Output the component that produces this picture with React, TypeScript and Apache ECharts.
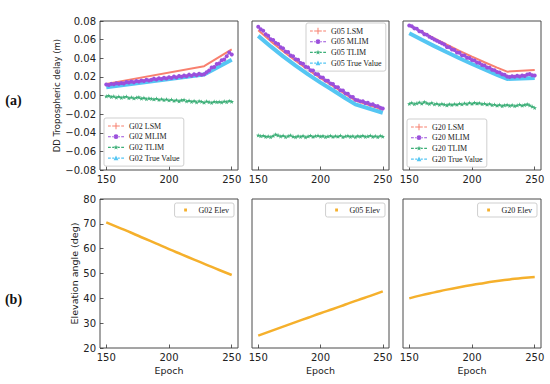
import React, { useEffect, useRef } from 'react';
import * as echarts from 'echarts';

// ---------------- data ----------------
const X_TICKS = [150, 200, 250];
const DELAY_TICK_INTERVAL = 0.02;
const ELEV_TICK_INTERVAL = 10;

const DENSE_EPOCHS = [150, 152, 154, 156, 158, 160, 162, 164, 166, 168, 170, 172, 174, 176, 178, 180, 182, 184, 186, 188, 190, 192, 194, 196, 198, 200, 202, 204, 206, 208, 210, 212, 214, 216, 218, 220, 222, 224, 226, 228, 230, 232, 234, 236, 238, 240, 242, 244, 246, 248, 250];

// G02
const G02_KEY_EPOCHS = [150, 228, 250];
const G02_LSM = [0.0125, 0.0315, 0.0495];
const G02_TRUE = [0.0088, 0.0225, 0.0385];
const G02_MLIM = [0.0118, 0.0112, 0.0125, 0.0121, 0.0131, 0.0126, 0.0135, 0.0130, 0.0144, 0.0139, 0.0150, 0.0143, 0.0156, 0.0149, 0.0162, 0.0155, 0.0170, 0.0161, 0.0168, 0.0181, 0.0172, 0.0185, 0.0178, 0.0190, 0.0183, 0.0197, 0.0189, 0.0203, 0.0194, 0.0209, 0.0201, 0.0215, 0.0207, 0.0224, 0.0213, 0.0229, 0.0218, 0.0233, 0.0222, 0.0228, 0.0249, 0.0268, 0.0301, 0.0307, 0.0338, 0.0345, 0.0379, 0.0386, 0.0421, 0.0462, 0.0441];
const G02_TLIM = [-0.0008, -0.0002, -0.0015, -0.0009, -0.0021, -0.0012, -0.0024, -0.0016, -0.0011, -0.0027, -0.0019, -0.0030, -0.0022, -0.0018, -0.0033, -0.0025, -0.0038, -0.0029, -0.0035, -0.0041, -0.0032, -0.0045, -0.0037, -0.0049, -0.0040, -0.0052, -0.0044, -0.0057, -0.0048, -0.0061, -0.0050, -0.0046, -0.0063, -0.0055, -0.0068, -0.0058, -0.0072, -0.0060, -0.0066, -0.0075, -0.0062, -0.0070, -0.0078, -0.0064, -0.0071, -0.0067, -0.0074, -0.0063, -0.0069, -0.0058, -0.0066];

// G05
const G05_KEY_EPOCHS = [150, 160, 170, 180, 190, 200, 210, 220, 228, 250];
const G05_LSM = [0.0700, 0.0584, 0.0475, 0.0373, 0.0277, 0.0187, 0.0103, 0.0015, -0.0053, -0.0150];
const G05_TRUE = [0.0640, 0.0527, 0.0420, 0.0320, 0.0226, 0.0138, 0.0056, -0.0030, -0.0095, -0.0185];
const G05_MLIM = [0.0738, 0.0712, 0.0695, 0.0658, 0.0641, 0.0603, 0.0597, 0.0565, 0.0553, 0.0518, 0.0506, 0.0471, 0.0466, 0.0430, 0.0421, 0.0389, 0.0384, 0.0350, 0.0341, 0.0308, 0.0302, 0.0270, 0.0268, 0.0232, 0.0228, 0.0196, 0.0192, 0.0161, 0.0158, 0.0128, 0.0124, 0.0092, 0.0089, 0.0057, 0.0054, 0.0023, 0.0019, -0.0012, -0.0015, -0.0046, -0.0050, -0.0063, -0.0061, -0.0080, -0.0079, -0.0098, -0.0095, -0.0113, -0.0114, -0.0131, -0.0139];
const G05_TLIM = [-0.0428, -0.0436, -0.0431, -0.0442, -0.0437, -0.0445, -0.0433, -0.0418, -0.0427, -0.0439, -0.0430, -0.0446, -0.0436, -0.0428, -0.0441, -0.0447, -0.0435, -0.0443, -0.0432, -0.0449, -0.0438, -0.0431, -0.0444, -0.0436, -0.0429, -0.0441, -0.0434, -0.0446, -0.0437, -0.0432, -0.0443, -0.0436, -0.0440, -0.0430, -0.0445, -0.0438, -0.0433, -0.0442, -0.0436, -0.0447, -0.0434, -0.0440, -0.0431, -0.0444, -0.0437, -0.0429, -0.0442, -0.0436, -0.0445, -0.0433, -0.0440];

// G20
const G20_KEY_EPOCHS = [150, 160, 170, 180, 190, 200, 210, 220, 228, 250];
const G20_LSM = [0.0755, 0.0684, 0.0614, 0.0546, 0.0480, 0.0417, 0.0357, 0.0300, 0.0256, 0.0275];
const G20_TRUE = [0.0668, 0.0598, 0.0530, 0.0464, 0.0400, 0.0338, 0.0279, 0.0222, 0.0178, 0.0188];
const G20_MLIM = [0.0752, 0.0744, 0.0721, 0.0716, 0.0689, 0.0685, 0.0658, 0.0652, 0.0631, 0.0618, 0.0602, 0.0589, 0.0574, 0.0560, 0.0548, 0.0521, 0.0519, 0.0493, 0.0489, 0.0462, 0.0458, 0.0431, 0.0430, 0.0405, 0.0402, 0.0381, 0.0375, 0.0354, 0.0349, 0.0327, 0.0323, 0.0301, 0.0299, 0.0276, 0.0271, 0.0252, 0.0247, 0.0228, 0.0222, 0.0203, 0.0199, 0.0207, 0.0201, 0.0212, 0.0205, 0.0214, 0.0209, 0.0226, 0.0231, 0.0218, 0.0214];
const G20_TLIM = [-0.0088, -0.0079, -0.0092, -0.0083, -0.0074, -0.0086, -0.0069, -0.0081, -0.0090, -0.0078, -0.0095, -0.0086, -0.0099, -0.0089, -0.0097, -0.0104, -0.0093, -0.0101, -0.0092, -0.0098, -0.0087, -0.0094, -0.0083, -0.0091, -0.0079, -0.0088, -0.0077, -0.0085, -0.0081, -0.0092, -0.0086, -0.0097, -0.0090, -0.0103, -0.0096, -0.0108, -0.0100, -0.0112, -0.0104, -0.0099, -0.0110, -0.0102, -0.0114, -0.0105, -0.0097, -0.0108, -0.0101, -0.0093, -0.0106, -0.0118, -0.0131];

// Elevation angles
const ELEV_EPOCHS = [150, 160, 170, 180, 190, 200, 210, 220, 230, 240, 250];
const G02_ELEV = [70.6, 68.5, 66.4, 64.2, 62.0, 59.8, 57.7, 55.6, 53.5, 51.4, 49.4];
const G05_ELEV = [25.0, 26.8, 28.6, 30.4, 32.2, 34.0, 35.7, 37.5, 39.3, 41.0, 42.8];
const G20_ELEV = [40.0, 41.3, 42.4, 43.5, 44.5, 45.4, 46.2, 47.0, 47.6, 48.2, 48.6];

// ---------------- styling ----------------
const SANS = '"DejaVu Sans", sans-serif';
const SERIF = '"Liberation Serif", "Times New Roman", serif';
const C_LSM = '#F8806F';
const C_MLIM = '#9B4FDC';
const C_TLIM = '#3DAF78';
const C_TRUE = '#55C6F3';
const C_ELEV = '#F5B02C';
const FRAME = '#4a4a4a';
const TEXT = '#222222';

const CORNERS = 'M0 0h0.01v0.01h-0.01z M15.99 7.99h0.01v0.01h-0.01z ';
const DASHES = 'M0 3.45h2.8v1.1h-2.8z M4.2 3.45h2v1.1h-2z M9.8 3.45h2v1.1h-2z M13.2 3.45h2.8v1.1h-2.8z ';
const ICON_LSM = 'path://' + CORNERS + DASHES + 'M7.5 0.8h1v6.4h-1z M5 3.5h6v1h-6z';
const ICON_MLIM = 'path://' + CORNERS + DASHES + 'M5.6 4a2.4 2.4 0 1 0 4.8 0a2.4 2.4 0 1 0 -4.8 0z';
const ICON_TLIM = 'path://' + CORNERS + DASHES + 'M8 1.4L8.6 3.2L10.5 3.2L9 4.35L9.55 6.2L8 5.1L6.45 6.2L7 4.35L5.5 3.2L7.4 3.2Z';
const ICON_TRUE = 'path://' + CORNERS + DASHES + 'M8 1.4L10.4 6.2L5.6 6.2Z';
const ICON_ELEV = 'path://' + CORNERS + 'M6.6 2.6h2.8v2.8h-2.8z';
const STAR = 'path://M8 1.4L8.6 3.2L10.5 3.2L9 4.35L9.55 6.2L8 5.1L6.45 6.2L7 4.35L5.5 3.2L7.4 3.2Z';

const PANEL_LEFT = [100, 252, 403];
const PANEL_WIDTH = [138, 137, 138];
const TOP_ROW = { top: 21, height: 149 };
const BOTTOM_ROW = { top: 199, height: 149 };

const pairs = (xs: number[], ys: number[]) => xs.map((x, i) => [x, ys[i]]);

const fmtDelay = (v: number) => {
  if (Math.abs(v) < 1e-9) return '0.00';
  const s = v.toFixed(2);
  return s.replace('-', '\u2212');
};

const PANELS = [
  { sat: 'G02', keyEpochs: G02_KEY_EPOCHS, lsm: G02_LSM, truth: G02_TRUE, mlim: G02_MLIM, tlim: G02_TLIM, elev: G02_ELEV },
  { sat: 'G05', keyEpochs: G05_KEY_EPOCHS, lsm: G05_LSM, truth: G05_TRUE, mlim: G05_MLIM, tlim: G05_TLIM, elev: G05_ELEV },
  { sat: 'G20', keyEpochs: G20_KEY_EPOCHS, lsm: G20_LSM, truth: G20_TRUE, mlim: G20_MLIM, tlim: G20_TLIM, elev: G20_ELEV },
];

const TOP_LEGEND_POS = [
  { left: 104, top: 118 },
  { left: 306, top: 23 },
  { left: 407, top: 119 },
];
const BOTTOM_LEGEND_RIGHT = [316, 165, 13];

function buildOption() {
  const grid: any[] = [];
  const xAxis: any[] = [];
  const yAxis: any[] = [];
  const series: any[] = [];
  const legend: any[] = [];

  const legendBase = {
    orient: 'vertical',
    padding: [3, 4, 3, 4],
    itemWidth: 16,
    itemHeight: 8,
    itemGap: 0.7,
    symbolKeepAspect: true,
    selectedMode: false,
    backgroundColor: 'rgba(255,255,255,0.85)',
    borderColor: '#cfcfcf',
    borderWidth: 1,
    borderRadius: 2,
    textStyle: { fontFamily: SERIF, fontSize: 8, color: TEXT, lineHeight: 10 },
  };

  const xAxisCommon = (gridIndex: number) => ({
    type: 'value', gridIndex, min: 145, max: 255,
    axisLine: { show: false, onZero: false }, splitLine: { show: false },
    axisTick: { show: true, inside: true, length: 3.5, customValues: X_TICKS, lineStyle: { color: '#333', width: 0.8 } },
    axisLabel: { customValues: X_TICKS, margin: 4, fontFamily: SANS, fontSize: 10, color: TEXT },
  });

  PANELS.forEach((p, i) => {
    // ----- top row (delay) -----
    const gTop = grid.length;
    grid.push({ left: PANEL_LEFT[i], width: PANEL_WIDTH[i], top: TOP_ROW.top, height: TOP_ROW.height, show: true, borderColor: FRAME, borderWidth: 1, backgroundColor: 'transparent' });
    xAxis.push(xAxisCommon(gTop));
    yAxis.push({
      type: 'value', gridIndex: gTop, min: -0.08, max: 0.08, interval: DELAY_TICK_INTERVAL,
      axisLine: { show: false, onZero: false }, splitLine: { show: false },
      axisTick: { show: i === 0, inside: true, length: 3.5, lineStyle: { color: '#333', width: 0.8 } },
      axisLabel: { show: i === 0, margin: 4, fontFamily: SANS, fontSize: 10, color: TEXT, formatter: fmtDelay },
      name: i === 0 ? 'DD Tropospheric delay (m)' : '',
      nameLocation: 'middle', nameGap: 37,
      nameTextStyle: { fontFamily: SANS, fontSize: 8.5, color: TEXT },
    });

    series.push({
      name: `${p.sat} True Value`, type: 'line', xAxisIndex: gTop, yAxisIndex: gTop,
      data: pairs(p.keyEpochs, p.truth), symbol: 'none', smooth: false,
      lineStyle: { color: C_TRUE, width: 4 }, itemStyle: { color: C_TRUE }, z: 2,
    });
    series.push({
      name: `${p.sat} LSM`, type: 'line', xAxisIndex: gTop, yAxisIndex: gTop,
      data: pairs(p.keyEpochs, p.lsm), symbol: 'none',
      lineStyle: { color: C_LSM, width: 2 }, itemStyle: { color: C_LSM }, z: 3,
    });
    series.push({
      name: `${p.sat} TLIM`, type: 'line', xAxisIndex: gTop, yAxisIndex: gTop,
      data: pairs(DENSE_EPOCHS, p.tlim), symbol: STAR, symbolSize: 4.5, showSymbol: true,
      lineStyle: { color: C_TLIM, width: 1, type: [3, 1.5] }, itemStyle: { color: C_TLIM, borderWidth: 0 }, z: 4,
    });
    series.push({
      name: `${p.sat} MLIM`, type: 'line', xAxisIndex: gTop, yAxisIndex: gTop,
      data: pairs(DENSE_EPOCHS, p.mlim), symbol: 'circle', symbolSize: 4, showSymbol: true,
      lineStyle: { color: C_MLIM, width: 1.3, type: [3, 1.5] }, itemStyle: { color: C_MLIM, borderWidth: 0 }, z: 5,
    });

    legend.push({
      ...legendBase,
      left: TOP_LEGEND_POS[i].left, top: TOP_LEGEND_POS[i].top,
      data: [
        { name: `${p.sat} LSM`, icon: ICON_LSM, itemStyle: { color: C_LSM, borderWidth: 0 } },
        { name: `${p.sat} MLIM`, icon: ICON_MLIM, itemStyle: { color: C_MLIM, borderWidth: 0 } },
        { name: `${p.sat} TLIM`, icon: ICON_TLIM, itemStyle: { color: C_TLIM, borderWidth: 0 } },
        { name: `${p.sat} True Value`, icon: ICON_TRUE, itemStyle: { color: C_TRUE, borderWidth: 0 } },
      ],
    });

    // ----- bottom row (elevation) -----
    const gBot = grid.length;
    grid.push({ left: PANEL_LEFT[i], width: PANEL_WIDTH[i], top: BOTTOM_ROW.top, height: BOTTOM_ROW.height, show: true, borderColor: FRAME, borderWidth: 1, backgroundColor: 'transparent' });
    xAxis.push({
      ...xAxisCommon(gBot),
      name: 'Epoch', nameLocation: 'middle', nameGap: 17,
      nameTextStyle: { fontFamily: SANS, fontSize: 9.5, color: TEXT },
    });
    yAxis.push({
      type: 'value', gridIndex: gBot, min: 20, max: 80, interval: ELEV_TICK_INTERVAL,
      axisLine: { show: false, onZero: false }, splitLine: { show: false },
      axisTick: { show: i === 0, inside: true, length: 3.5, lineStyle: { color: '#333', width: 0.8 } },
      axisLabel: { show: i === 0, margin: 4, fontFamily: SANS, fontSize: 10, color: TEXT },
      name: i === 0 ? 'Elevation angle (deg)' : '',
      nameLocation: 'middle', nameGap: 19,
      nameTextStyle: { fontFamily: SANS, fontSize: 9.5, color: TEXT },
    });
    series.push({
      name: `${p.sat} Elev`, type: 'line', xAxisIndex: gBot, yAxisIndex: gBot,
      data: pairs(ELEV_EPOCHS, p.elev), symbol: 'none', smooth: true,
      lineStyle: { color: C_ELEV, width: 2.5 }, itemStyle: { color: C_ELEV }, z: 3,
    });
    legend.push({
      ...legendBase,
      padding: [2, 5, 2, 3],
      right: BOTTOM_LEGEND_RIGHT[i], top: 203,
      data: [{ name: `${p.sat} Elev`, icon: ICON_ELEV, itemStyle: { color: C_ELEV, borderWidth: 0 } }],
    });
  });

  return {
    animation: false,
    backgroundColor: '#ffffff',
    grid, xAxis, yAxis, series, legend,
    graphic: [
      { type: 'text', x: 13.5, y: 100, style: { text: '(a)', fill: '#111', font: `bold 14px ${SERIF}`, align: 'center', verticalAlign: 'middle' } },
      { type: 'text', x: 13.5, y: 299, style: { text: '(b)', fill: '#111', font: `bold 14px ${SERIF}`, align: 'center', verticalAlign: 'middle' } },
    ],
  };
}

export default function App() {
  const ref = useRef<HTMLDivElement>(null);
  useEffect(() => {
    document.body.style.margin = '0';
    const chart = echarts.init(ref.current!, undefined, { renderer: 'svg', width: 550, height: 384 });
    chart.setOption(buildOption() as any);
    return () => chart.dispose();
  }, []);
  return <div ref={ref} style={{ width: 550, height: 384, position: 'absolute', left: 0, top: 0, background: '#fff' }} />;
}
